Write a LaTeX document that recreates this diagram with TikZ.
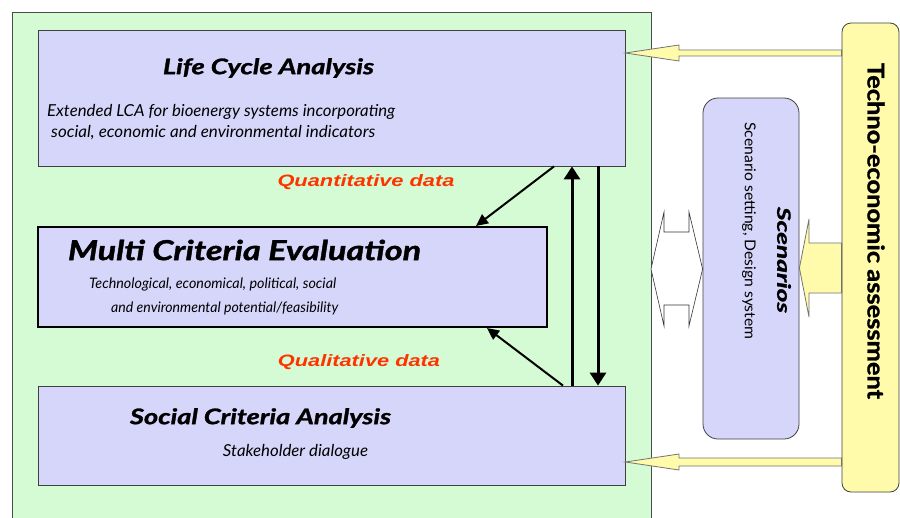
\documentclass[tikz,border=0pt]{standalone}
\usepackage{fontspec}
\usepackage{graphicx}
\setmainfont{Lato}
\newfontfamily\gill{Lato}
\newfontfamily\gillheavy[BoldItalicFeatures={FakeBold=1.2},BoldFeatures={FakeBold=1.2}]{Lato}
\newfontfamily\redfont{Liberation Sans}
\usetikzlibrary{arrows.meta}
\newcommand\fitto[2]{\resizebox{#1}{\height}{#2}}
\definecolor{panelgreen}{HTML}{D5FBD5}
\definecolor{lav}{HTML}{D6D6FB}
\definecolor{techyellow}{HTML}{FFFBAA}
\definecolor{labred}{HTML}{FF3300}
\tikzset{
  box/.style={draw=black!75, fill=lav, line width=0.8pt, inner sep=0pt},
  thickbox/.style={box, draw=black, line width=2.6pt},
  blockarrow/.style={draw=black!55, fill=techyellow, line width=0.8pt},
  whitearrow/.style={draw=black!80, fill=white, line width=0.6pt},
  thinarr/.style={line width=2pt, -{Triangle[length=12pt,width=11pt]}},
  thickarr/.style={line width=3pt, -{Triangle[length=13pt,width=16pt]}},
  txt/.style={inner sep=0pt, text=black},
  title/.style={txt, font=\gillheavy\bfseries\itshape\fontsize{21.5}{24}\selectfont},
  sub/.style={txt, font=\gill\itshape\fontsize{16.5}{19}\selectfont},
  redlab/.style={txt, text=labred, font=\redfont\bfseries\itshape\fontsize{16.5}{19}\selectfont},
}
\begin{document}
\begin{tikzpicture}[x=1pt,y=-1pt]
\useasboundingbox (0,0) rectangle (900,517);
\fill[white] (0,0) rectangle (900,517);
% green panel
\draw[fill=panelgreen, draw=black!70, line width=0.8pt] (12,12) rectangle (651,530);
% boxes
\node[box, minimum width=587pt, minimum height=136pt] (lca) at (331.5,98) {};
\node[thickbox, minimum width=509pt, minimum height=100pt] (mce) at (292.5,277) {};
\node[box, minimum width=587pt, minimum height=99pt] (sca) at (331.5,435.5) {};
\node[box, rounded corners=15pt, minimum width=96pt, minimum height=341pt] (scen) at (751,268.5) {};
\node[box, fill=techyellow, rounded corners=9pt, minimum width=57pt, minimum height=469pt] (techno) at (870.5,257.5) {};
% texts
\node[title] (lcat) at (268.5,68) {\fitto{211pt}{Life Cycle Analysis}};
\node[sub, anchor=west] (lcas1) at (47,112) {\fitto{348pt}{Extended LCA for bioenergy systems incorporating}};
\node[sub, anchor=west] (lcas2) at (51,133) {\fitto{324pt}{social, economic and environmental indicators}};
\node[redlab] (quant) at (366,182) {\fitto{177pt}{Quantitative data}};
\node[title, font=\gillheavy\bfseries\itshape\fontsize{27.5}{30}\selectfont] (mcet) at (244.5,250) {\fitto{353pt}{Multi Criteria Evaluation}};
\node[sub, anchor=west, font=\gill\itshape\fontsize{14.5}{17}\selectfont] (mces1) at (89,284) {\fitto{247pt}{Technological, economical, political, social}};
\node[sub, anchor=west, font=\gill\itshape\fontsize{14.5}{17}\selectfont] (mces2) at (111,308) {\fitto{227pt}{and environmental potential/feasibility}};
\node[redlab] (qual) at (359,362) {\fitto{162pt}{Qualitative data}};
\node[title] (scat) at (260.5,418) {\fitto{261pt}{Social Criteria Analysis}};
\node[sub] (scas) at (295.5,452) {\fitto{145pt}{Stakeholder dialogue}};
\node[txt, rotate=-90, font=\gillheavy\bfseries\fontsize{23}{26}\selectfont] (techt) at (876,231) {\fitto{336pt}{Techno-economic assessment}};
\node[title, rotate=-90, font=\gillheavy\bfseries\itshape\fontsize{18.5}{21}\selectfont] (scent) at (784,260) {\fitto{106pt}{Scenarios}};
\node[txt, rotate=-90, font=\gill\fontsize{15}{17}\selectfont] (scens) at (749,231) {\fitto{217pt}{Scenario setting, Design system}};
% block arrows
\draw[blockarrow] (techno.west |- 0,50) -- (679,50) -- (679,45) -- (lca.east |- 0,53) -- (679,61) -- (679,56) -- (techno.west |- 0,56) -- cycle;
\draw[blockarrow] (techno.west |- 0,458) -- (679,458) -- (679,454) -- (sca.east |- 0,462) -- (679,470) -- (679,466) -- (techno.west |- 0,466) -- cycle;
\draw[blockarrow] (techno.west |- 0,243) -- (809,243) -- (809,219) -- (scen.east |- 0,268) -- (809,317) -- (809,293) -- (techno.west |- 0,293) -- cycle;
\draw[whitearrow] (651,269) -- (664,212) -- (664,232) -- (689,232) -- (689,212) -- (scen.west |- 0,269) -- (689,326) -- (689,305) -- (664,305) -- (664,326) -- cycle;
% connectors
\coordinate (a1s) at (lca.south -| 554,0);
\coordinate (a1e) at (476,226);
\coordinate (a2s) at (sca.north -| 563,0);
\coordinate (a2e) at (487,328);
\draw[thinarr] (a1s) -- (a1e);
\draw[thinarr] (a2s) -- (a2e);
\draw[thickarr] (sca.north -| 572,0) -- (lca.south -| 572,0);
\draw[thickarr] (lca.south -| 598,0) -- (sca.north -| 598,0);
\end{tikzpicture}
\end{document}
